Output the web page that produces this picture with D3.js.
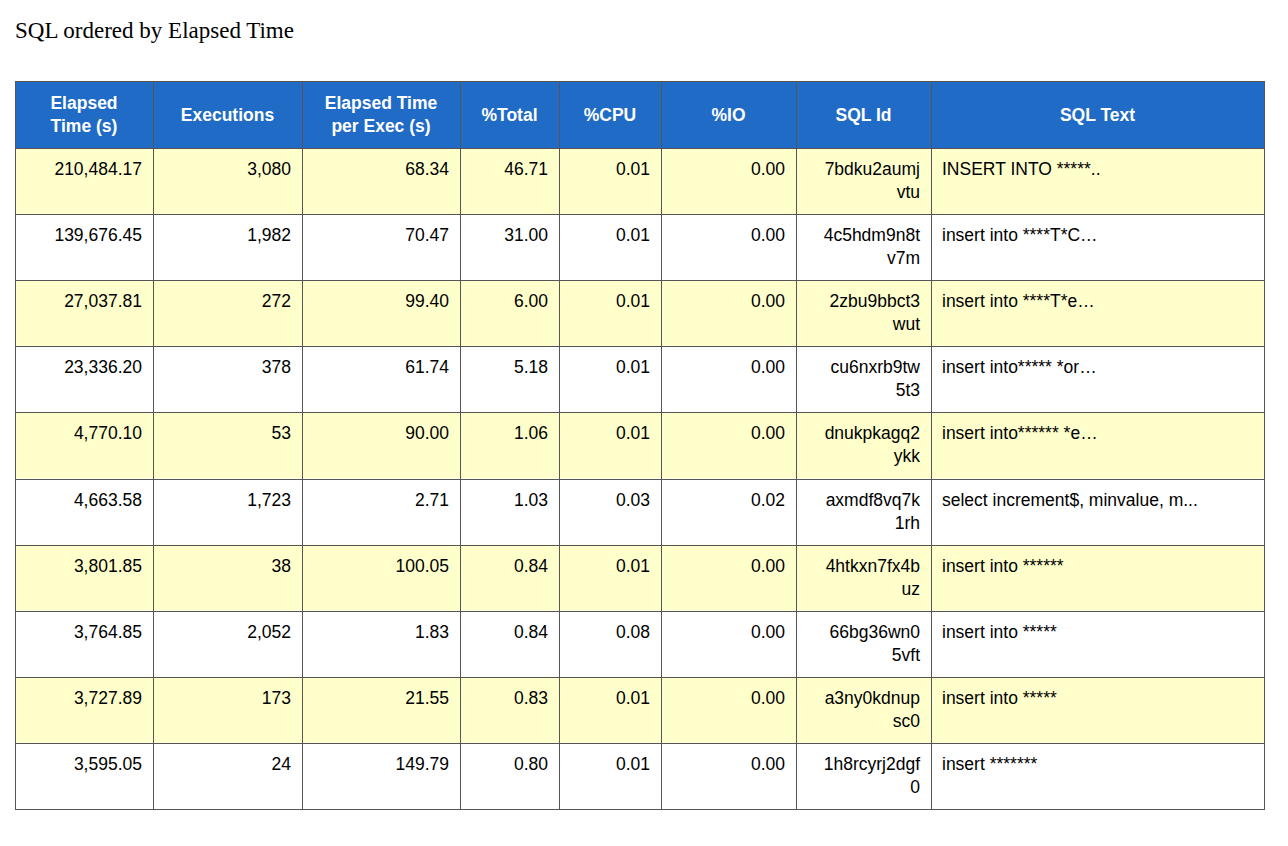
<!DOCTYPE html>
<html><head><meta charset="utf-8">
<script src="https://cdn.jsdelivr.net/npm/d3@7"></script>
<style>body{margin:0;background:#fff}</style></head>
<body><svg id="c" width="1288" height="846"></svg>
<script>
const headers = [["Elapsed","Time (s)"],["Executions"],["Elapsed Time","per Exec (s)"],["%Total"],["%CPU"],["%IO"],["SQL Id"],["SQL Text"]];
const elapsed = ["210,484.17","139,676.45","27,037.81","23,336.20","4,770.10","4,663.58","3,801.85","3,764.85","3,727.89","3,595.05"];
const executions = ["3,080","1,982","272","378","53","1,723","38","2,052","173","24"];
const perExec = ["68.34","70.47","99.40","61.74","90.00","2.71","100.05","1.83","21.55","149.79"];
const pctTotal = ["46.71","31.00","6.00","5.18","1.06","1.03","0.84","0.84","0.83","0.80"];
const pctCpu = ["0.01","0.01","0.01","0.01","0.01","0.03","0.01","0.08","0.01","0.01"];
const pctIo = ["0.00","0.00","0.00","0.00","0.00","0.02","0.00","0.00","0.00","0.00"];
const sqlIdLines = [["7bdku2aumj","vtu"],["4c5hdm9n8t","v7m"],["2zbu9bbct3","wut"],["cu6nxrb9tw","5t3"],["dnukpkagq2","ykk"],["axmdf8vq7k","1rh"],["4htkxn7fx4b","uz"],["66bg36wn0","5vft"],["a3ny0kdnup","sc0"],["1h8rcyrj2dgf","0"]];
const sqlText = ["INSERT INTO *****..","insert into ****T*C…","insert into ****T*e…","insert into***** *or…","insert into****** *e…","select increment$, minvalue, m...","insert into ******","insert into *****","insert into *****","insert *******"];
const colWeights = [138,149,158,99,102,135,135,333];

const svg = d3.select("#c");
svg.append("text").attr("x",15).attr("y",38).attr("font-family","Liberation Serif, serif").attr("font-size",23).attr("fill","#000").text("SQL ordered by Elapsed Time");

const cols = d3.range(colWeights.length);
const edges = [15]; colWeights.forEach(w=>edges.push(edges[edges.length-1]+w));
const xs = d3.scaleOrdinal().domain(cols).range(edges.slice(0,-1));
const rows = d3.range(elapsed.length);
const headTop = 81, headH = 67, rowH = 66.1;
const y = d3.scaleBand().domain(rows).range([headTop+headH, headTop+headH+rowH*rows.length]).padding(0);
const font = "Liberation Sans, Arial, sans-serif";

// header
svg.append("rect").attr("x",15).attr("y",headTop).attr("width",edges[edges.length-1]-15).attr("height",headH).attr("fill","#1f6bc6");
cols.forEach(c=>{
  const h = headers[c], cx = xs(c)+colWeights[c]/2, cy = headTop+headH/2;
  const t = svg.append("text").attr("x",cx).attr("text-anchor","middle").attr("font-family",font).attr("font-size",17.5).attr("font-weight","bold").attr("fill","#fff");
  h.forEach((line,i)=>t.append("tspan").attr("x",cx).attr("y",cy+6+(i-(h.length-1)/2)*23).text(line));
});
// rows
const data = rows.map(i=>[elapsed[i],executions[i],perExec[i],pctTotal[i],pctCpu[i],pctIo[i],sqlIdLines[i],sqlText[i]]);
rows.forEach(r=>{
  const top = y(r);
  svg.append("rect").attr("x",15).attr("y",top).attr("width",edges[edges.length-1]-15).attr("height",y.bandwidth()).attr("fill", r%2===0?"#ffffcc":"#ffffff");
  data[r].forEach((v,c)=>{
    const right = c<7;
    const x = right ? xs(c)+colWeights[c]-11 : xs(c)+11;
    const t = svg.append("text").attr("font-family",font).attr("font-size",17.5).attr("fill","#000").attr("text-anchor",right?"end":"start");
    (Array.isArray(v)?v:[v]).forEach((line,i)=>t.append("tspan").attr("x",x).attr("y",top+27+i*23).text(line));
  });
});
// grid lines
const bottom = y(rows.length-1)+y.bandwidth();
const right = edges[edges.length-1];
edges.forEach(e=>svg.append("line").attr("x1",e+0.5).attr("x2",e+0.5).attr("y1",headTop).attr("y2",bottom).attr("stroke","#555"));
[headTop, ...rows.map(r=>y(r)), bottom].forEach(v=>svg.append("line").attr("x1",15).attr("x2",right+1).attr("y1",Math.round(v)+0.5).attr("y2",Math.round(v)+0.5).attr("stroke","#555"));
</script></body></html>
